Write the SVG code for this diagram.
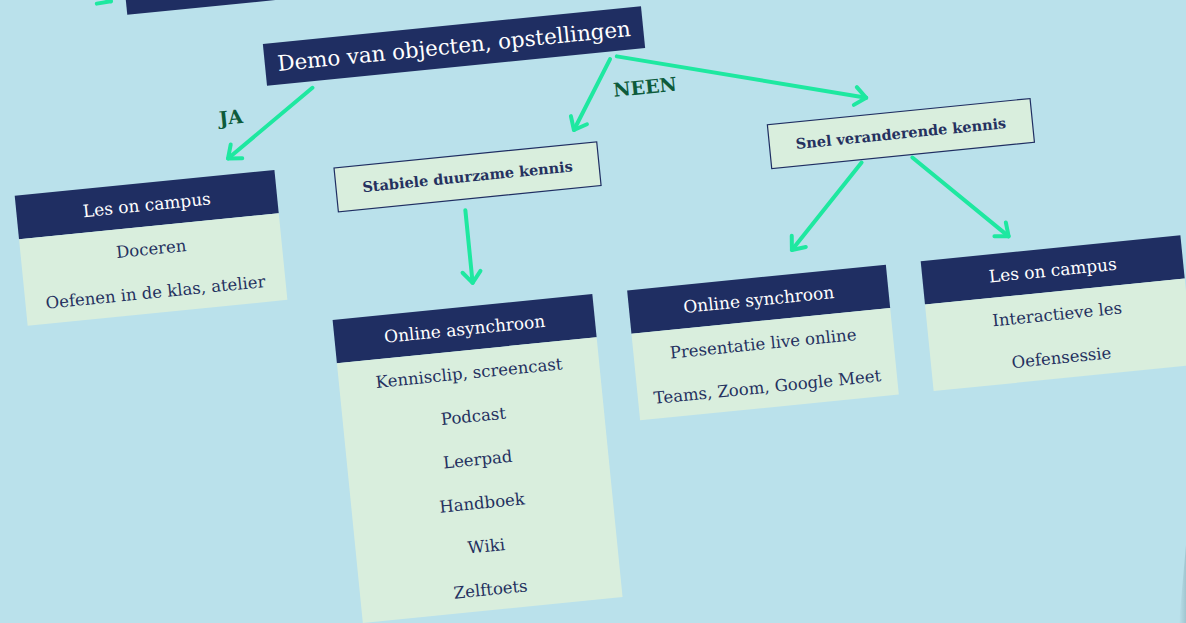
<svg xmlns="http://www.w3.org/2000/svg" width="1186" height="623" viewBox="0 0 1186 623">
<defs>
<style>
.hd{fill:#1f2e62}
.bd{fill:#d9eedd}
.dec{fill:#d9eedd;stroke:#1f2e62;stroke-width:1.2}
.ht{font-family:"DejaVu Serif","Liberation Serif",serif;font-size:17px;fill:#ffffff;text-anchor:middle}
.it{font-family:"DejaVu Serif","Liberation Serif",serif;font-size:16.5px;fill:#25315f;text-anchor:middle}
.dt{font-family:"DejaVu Serif","Liberation Serif",serif;font-size:14.5px;font-weight:bold;fill:#25315f;text-anchor:middle}
.lb{font-family:"DejaVu Serif","Liberation Serif",serif;font-size:19px;font-weight:bold;fill:#0d5b3b;text-anchor:middle}
.ar{fill:none;stroke:#1ee8a0;stroke-width:4;stroke-linecap:round;marker-end:url(#ah)}
</style>
<marker id="ah" markerUnits="userSpaceOnUse" markerWidth="24" markerHeight="24" refX="16" refY="12" orient="auto">
<path d="M5,3 L16,12 L5,21" fill="none" stroke="#1ee8a0" stroke-width="4" stroke-linecap="round" stroke-linejoin="round"/>
</marker>
<linearGradient id="edge" x1="0" x2="1" y1="0" y2="0">
<stop offset="0" stop-color="#8fb3bd" stop-opacity="0"/>
<stop offset="1" stop-color="#8fb3bd" stop-opacity="0.6"/>
</linearGradient>
</defs>
<rect x="0" y="0" width="1186" height="623" fill="#bae1eb"/>
<polygon points="1186,545 1186,623 1179,623" fill="url(#edge)"/>
<g transform="rotate(-5.7 593 311)">
<g id="connectors">
<path class="ar" d="M108,-71 L144,-45"/>
<path class="ar" d="M336,61 L245,123"/>
<path class="ar" d="M635,62 L592,129"/>
<path class="ar" d="M642,60 L886,126"/>
<path class="ar" d="M476,198 L476,271"/>
<path class="ar" d="M875,190 L797,270"/>
<path class="ar" d="M926,190 L1014,278"/>
<text class="lb" x="252" y="89">JA</text>
<text class="lb" x="667" y="100">NEEN</text>
</g>
<g id="top-box">
<rect class="hd" x="159" y="-90" width="360" height="60"/>
</g>
<g id="demo">
<rect class="hd" x="291" y="12.5" width="380" height="42"/>
<text class="ht" x="481" y="41" style="font-size:21.4px">Demo van objecten, opstellingen</text>
</g>
<g id="campus-left">
<rect class="hd" x="29" y="139" width="261" height="43.5"/>
<rect class="bd" x="29" y="182.5" width="261" height="87"/>
<text class="ht" x="159.5" y="167">Les on campus</text>
<text class="it" x="159.5" y="211">Doceren</text>
<text class="it" x="159.5" y="254.5">Oefenen in de klas, atelier</text>
</g>
<g id="stabiel">
<rect class="dec" x="349.5" y="143" width="264" height="44"/>
<text class="dt" x="481.5" y="170">Stabiele duurzame kennis</text>
</g>
<g id="snel">
<rect class="dec" x="785" y="143" width="264" height="44"/>
<text class="dt" x="917" y="170">Snel veranderende kennis</text>
</g>
<g id="asynchroon">
<rect class="hd" x="333" y="294" width="261" height="43.5"/>
<rect class="bd" x="333" y="337.5" width="261" height="261"/>
<text class="ht" x="463.5" y="322">Online asynchroon</text>
<text class="it" x="463.5" y="366">Kennisclip, screencast</text>
<text class="it" x="463.5" y="409.5">Podcast</text>
<text class="it" x="463.5" y="453">Leerpad</text>
<text class="it" x="463.5" y="496.5">Handboek</text>
<text class="it" x="463.5" y="540">Wiki</text>
<text class="it" x="463.5" y="583.5">Zelftoets</text>
</g>
<g id="synchroon">
<rect class="hd" x="629" y="294" width="260" height="43.5"/>
<rect class="bd" x="629" y="337.5" width="260" height="87"/>
<text class="ht" x="759" y="322">Online synchroon</text>
<text class="it" x="759" y="366">Presentatie live online</text>
<text class="it" x="759" y="409.5">Teams, Zoom, Google Meet</text>
</g>
<g id="campus-right">
<rect class="hd" x="924" y="294" width="261" height="43.5"/>
<rect class="bd" x="924" y="337.5" width="261" height="87"/>
<text class="ht" x="1054.5" y="322">Les on campus</text>
<text class="it" x="1054.5" y="366">Interactieve les</text>
<text class="it" x="1054.5" y="409.5">Oefensessie</text>
</g>
</g>
</svg>
